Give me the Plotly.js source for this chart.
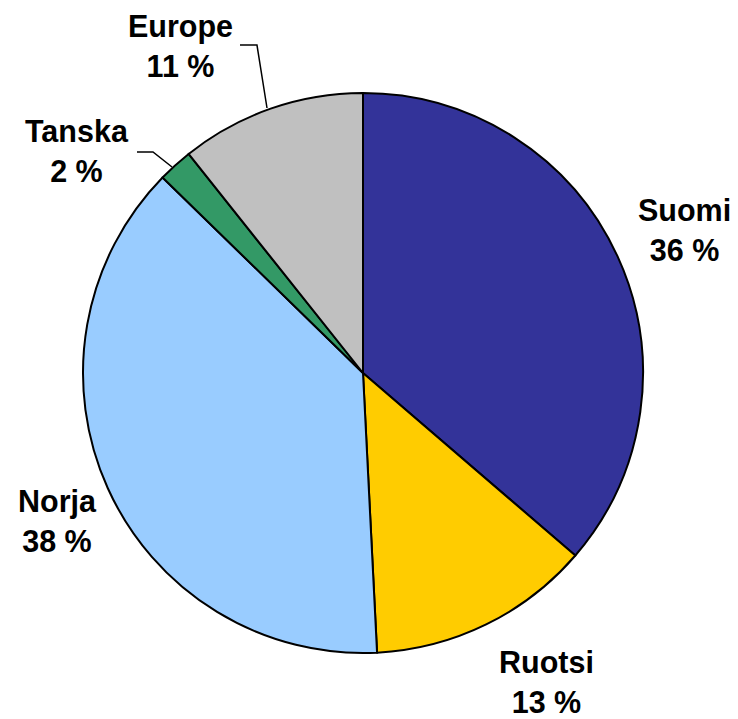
<!DOCTYPE html>
<html>
<head>
<meta charset="utf-8">
<script src="https://cdn.plot.ly/plotly-3.0.1.min.js"></script>
<style>html,body{margin:0;padding:0;background:#fff;}#chart{width:738px;height:719px;}</style>
</head>
<body>
<div id="chart"></div>
<script>
// Data
var categories = ["Suomi", "Ruotsi", "Norja", "Tanska", "Europe"];
var values = [36.3, 12.9, 38.1, 2.0, 10.7];
var colors = ["#333399", "#FFCC00", "#99CCFF", "#339966", "#C0C0C0"];

// Label placement (pixel positions in the 738x719 canvas)
var labelPx = [[684, 230], [546, 682], [57, 521], [77, 151], [180, 46]];

var W = 738, H = 719;
var cx = 363, cy = 373, R = 280;

var total = values.reduce(function(a, b){ return a + b; }, 0);

var trace = {
  type: "pie",
  labels: categories,
  values: values,
  sort: false,
  direction: "clockwise",
  rotation: 0,
  textinfo: "none",
  hoverinfo: "label+percent",
  marker: { colors: colors, line: { color: "#000000", width: 2 } },
  domain: { x: [(cx - R) / W, (cx + R) / W], y: [(H - cy - R) / H, (H - cy + R) / H] },
  showlegend: false
};

var annotations = categories.map(function(c, i){
  var pct = Math.round(values[i] / total * 100);
  return {
    xref: "paper", yref: "paper",
    x: labelPx[i][0] / W, y: 1 - labelPx[i][1] / H,
    xanchor: "center", yanchor: "middle",
    text: c + "<br>" + pct + " %",
    showarrow: false,
    align: "center",
    borderpad: 0,
    font: { family: "Liberation Sans, Arial, sans-serif", size: 30.5, color: "#000", weight: 700 }
  };
});

function px(x, y){ return (x / W).toFixed(4) + "," + (1 - y / H).toFixed(4); }
var shapes = [
  { type: "path", xref: "paper", yref: "paper", path: "M" + px(240, 45) + " L" + px(257, 45) + " L" + px(267, 108), line: { color: "#000", width: 1.5 } },
  { type: "path", xref: "paper", yref: "paper", path: "M" + px(137, 152) + " L" + px(153, 152) + " L" + px(172, 167), line: { color: "#000", width: 1.5 } }
];

var layout = {
  width: W, height: H,
  margin: { l: 0, r: 0, t: 0, b: 0 },
  paper_bgcolor: "#ffffff",
  annotations: annotations,
  shapes: shapes
};

Plotly.newPlot("chart", [trace], layout, { displayModeBar: false, staticPlot: true });
</script>
</body>
</html>
